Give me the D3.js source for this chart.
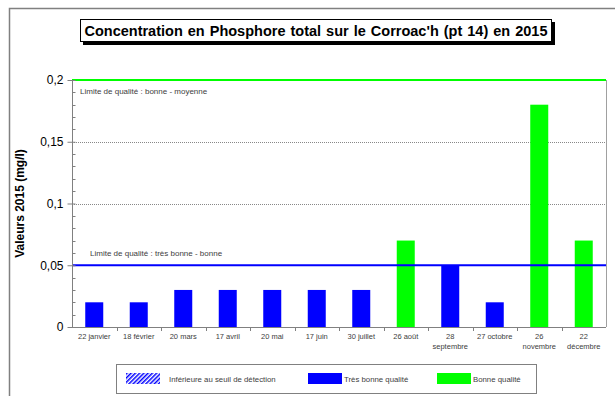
<!DOCTYPE html>
<html>
<head>
<meta charset="utf-8">
<script src="https://cdn.jsdelivr.net/npm/d3@7"></script>
<style>
  html, body { margin: 0; padding: 0; background: #fff; }
  svg { display: block; font-family: "Liberation Sans", Arial, sans-serif; }
</style>
</head>
<body>
<svg id="chart" width="615" height="396"></svg>
<script>
// Sampling dates (two-line labels split on "\n")
const categories = ["22 janvier", "18 février", "20 mars", "17 avril", "20 mai", "17 juin",
  "30 juillet", "26 août", "28\nseptembre", "27 octobre", "26\nnovembre", "22\ndécembre"];
// Total phosphorus, mg/l
const values = [0.02, 0.02, 0.03, 0.03, 0.03, 0.03, 0.03, 0.07, 0.05, 0.02, 0.18, 0.07];
// Quality class of each sample: "tb" = très bonne, "b" = bonne
const classes = ["tb", "tb", "tb", "tb", "tb", "tb", "tb", "b", "tb", "tb", "b", "b"];
const yTicks = [0, 0.05, 0.1, 0.15, 0.2];
const limits = [
  { value: 0.05, label: "Limite de qualité  : très bonne - bonne", color: "#0000ff" },
  { value: 0.2, label: "Limite de qualité  : bonne - moyenne", color: "#00ff00" }
];
const legendItems = [
  { key: "sd", label: "Inférieure au seuil de détection" },
  { key: "tb", label: "Très bonne qualité" },
  { key: "b", label: "Bonne qualité" }
];

const fills = { tb: "#0000ff", b: "#00ff00", sd: "url(#hatch)" };
const smallText = "#404040";

const svg = d3.select("#chart");
const m = { left: 72, right: 606, top: 80, bottom: 327 };

const defs = svg.append("defs");
const pat = defs.append("pattern").attr("id", "hatch")
  .attr("patternUnits", "userSpaceOnUse").attr("width", 3).attr("height", 3)
  .attr("patternTransform", "rotate(45)");
pat.append("rect").attr("width", 3).attr("height", 3).attr("fill", "#fff");
pat.append("rect").attr("width", 1.5).attr("height", 3).attr("fill", "#0000ff");

// Outer frame (only top and left edges fall inside the view)
svg.append("path").attr("d", "M9.5,400 V8.5 H620")
  .attr("fill", "none").attr("stroke", "#808080").attr("stroke-width", 1.5);

// Title box with drop shadow
svg.append("rect").attr("x", 83).attr("y", 22).attr("width", 472).attr("height", 23).attr("fill", "#000");
svg.append("rect").attr("x", 80.5).attr("y", 19.5).attr("width", 471).attr("height", 22)
  .attr("fill", "#fff").attr("stroke", "#000").attr("stroke-width", 1);
svg.append("text").attr("x", 316).attr("y", 35.5).attr("text-anchor", "middle")
  .attr("font-size", 14.5).attr("font-weight", "bold").attr("fill", "#000")
  .attr("word-spacing", 1)
  .text("Concentration en Phosphore total sur le Corroac'h (pt 14) en 2015");

const x = d3.scaleBand().domain(categories).range([m.left, m.right]);
const y = d3.scaleLinear().domain([0, 0.2]).range([m.bottom, m.top]);

// Dotted grid lines
svg.append("g").selectAll("line").data(yTicks.filter(t => t > 0 && t < 0.2)).join("line")
  .attr("x1", m.left).attr("x2", m.right)
  .attr("y1", d => Math.round(y(d)) + 0.5).attr("y2", d => Math.round(y(d)) + 0.5)
  .attr("stroke", "#888").attr("stroke-width", 1).attr("stroke-dasharray", "1,1");

// Right edge of plot
svg.append("line").attr("x1", m.right + 0.5).attr("x2", m.right + 0.5)
  .attr("y1", m.top).attr("y2", m.bottom).attr("stroke", "#a0a0a0");

// Bars
const bw = 18;
svg.append("g").selectAll("rect").data(values).join("rect")
  .attr("x", (d, i) => x(categories[i]) + x.bandwidth() / 2 - bw / 2)
  .attr("width", bw)
  .attr("y", d => y(d))
  .attr("height", d => y(0) - y(d))
  .attr("fill", (d, i) => fills[classes[i]]);

// Quality limit lines and captions
svg.append("g").selectAll("line").data(limits).join("line")
  .attr("x1", m.left).attr("x2", m.right)
  .attr("y1", d => y(d.value)).attr("y2", d => y(d.value))
  .attr("stroke", d => d.color).attr("stroke-width", 2);
svg.append("text").attr("x", 80).attr("y", y(0.2) + 14)
  .attr("font-size", 8).attr("fill", smallText).text(limits[1].label);
svg.append("text").attr("x", 90).attr("y", y(0.05) - 9)
  .attr("font-size", 8).attr("fill", smallText).text(limits[0].label);

// Y axis with minor ticks
const yAxis = d3.axisLeft(y).tickValues(yTicks).tickSize(5).tickPadding(4)
  .tickFormat(d => d3.format(",")(d).replace(".", ","));
const gy = svg.append("g").attr("transform", `translate(${m.left + 0.5},0)`).call(yAxis);
gy.selectAll("text").attr("font-size", 12).attr("fill", "#000")
  .attr("font-family", "Liberation Sans, Arial, sans-serif");
gy.selectAll("line, path").attr("stroke", "#808080");
gy.select(".domain").attr("d", `M0,${m.top}V${m.bottom}`);
const minor = d3.range(0, 21).map(i => i / 100).filter(v => !yTicks.some(t => Math.abs(t - v) < 1e-9));
gy.append("g").selectAll("line").data(minor).join("line")
  .attr("x1", 0).attr("x2", 3)
  .attr("y1", d => Math.round(y(d)) + 0.5).attr("y2", d => Math.round(y(d)) + 0.5)
  .attr("stroke", "#808080");
gy.selectAll(".tick line").attr("x2", -5).attr("x1", 3);

// X axis: baseline with ticks at category boundaries
svg.append("line").attr("x1", m.left).attr("x2", m.right)
  .attr("y1", m.bottom + 0.5).attr("y2", m.bottom + 0.5).attr("stroke", "#808080");
svg.append("g").selectAll("line").data(categories.slice(1)).join("line")
  .attr("x1", d => Math.round(x(d)) + 0.5).attr("x2", d => Math.round(x(d)) + 0.5)
  .attr("y1", m.bottom).attr("y2", m.bottom + 4).attr("stroke", "#808080");
const xl = svg.append("g").selectAll("text").data(categories).join("text")
  .attr("x", d => x(d) + x.bandwidth() / 2)
  .attr("y", m.bottom + 12)
  .attr("text-anchor", "middle").attr("font-size", 7.5).attr("fill", smallText);
xl.selectAll("tspan").data(d => d.split("\n")).join("tspan")
  .attr("x", function () { return d3.select(this.parentNode).attr("x"); })
  .attr("dy", (d, i) => i === 0 ? 0 : 10)
  .text(d => d);

// Y axis title
svg.append("text").attr("transform", `translate(24,${(m.top + m.bottom) / 2}) rotate(-90)`)
  .attr("text-anchor", "middle").attr("font-size", 12).attr("font-weight", "bold")
  .text("Valeurs 2015 (mg/l)");

// Legend
const lg = svg.append("g");
lg.append("rect").attr("x", 116.5).attr("y", 364.5).attr("width", 420).attr("height", 29)
  .attr("fill", "#fff").attr("stroke", "#808080");
const legendX = [126, 308, 437];
const items = lg.selectAll("g").data(legendItems).join("g")
  .attr("transform", (d, i) => `translate(${legendX[i]},373)`);
items.append("rect").attr("width", 34).attr("height", 11).attr("fill", d => fills[d.key]);
items.append("text").attr("x", (d, i) => i === 0 ? 43 : 36).attr("y", 8.5)
  .attr("font-size", 7.8).attr("fill", smallText).text(d => d.label);
</script>
</body>
</html>
